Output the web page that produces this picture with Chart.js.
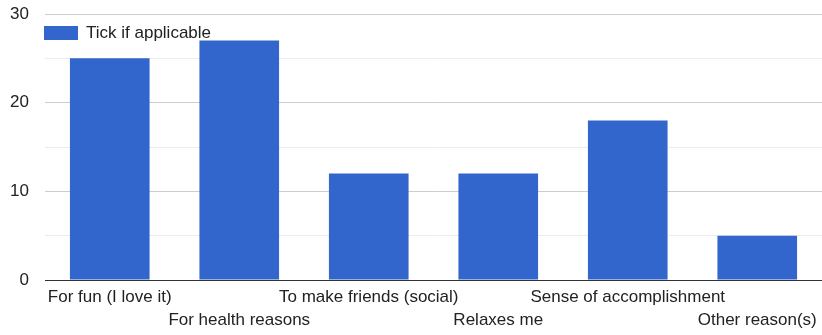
<!DOCTYPE html>
<html>
<head>
<meta charset="utf-8">
<script src="https://cdn.jsdelivr.net/npm/chart.js@4/dist/chart.umd.min.js"></script>
<style>
  html, body { margin: 0; padding: 0; background: #fff; }
  #wrap { width: 822px; height: 335px; }
</style>
</head>
<body>
<div id="wrap"><canvas id="c" width="822" height="335"></canvas></div>
<script>
// Reasons given, and how many respondents ticked each one
const categories = [
  'For fun (I love it)',
  'For health reasons',
  'To make friends (social)',
  'Relaxes me',
  'Sense of accomplishment',
  'Other reason(s)'
];
const tickCounts = [25, 27, 12, 12, 18, 5];
const seriesName = 'Tick if applicable';
const yTicks = [0, 10, 20, 30];

const FONT = "'Liberation Sans', Arial, sans-serif";
const BLUE = '#3366cc';

// Alternate labels drop to a second row so long names don't collide
const staggered = categories.map((c, i) => (i % 2 === 0 ? [c, ''] : ['', c]));

// Legend drawn inside the plot area, top-left
const insideLegend = {
  id: 'insideLegend',
  afterDraw(chart) {
    const { ctx, chartArea } = chart;
    const ds = chart.data.datasets[0];
    const x = chartArea.left - 1, y = chartArea.top + 12;
    ctx.save();
    ctx.fillStyle = ds.backgroundColor;
    ctx.fillRect(x, y, 34, 14);
    ctx.fillStyle = '#222';
    ctx.font = '17px ' + FONT;
    ctx.textBaseline = 'middle';
    ctx.fillText(ds.label, x + 42, y + 7);
    ctx.restore();
  }
};

new Chart(document.getElementById('c'), {
  type: 'bar',
  data: {
    labels: staggered,
    datasets: [{
      label: seriesName,
      data: tickCounts,
      backgroundColor: BLUE,
      borderWidth: 0,
      categoryPercentage: 1,
      barPercentage: 0.615
    }]
  },
  options: {
    responsive: false,
    animation: false,
    layout: { padding: { top: 14, right: 0, left: 0, bottom: 0 } },
    plugins: { legend: { display: false }, tooltip: { enabled: false } },
    scales: {
      x: {
        grid: { display: false, drawTicks: false },
        border: { display: true, color: '#333', width: 1 },
        ticks: {
          color: '#222',
          font: { family: FONT, size: 17, lineHeight: 1.36 },
          padding: 6,
          maxRotation: 0,
          autoSkip: false
        },
        afterFit(scale) {
          scale.height = 55;
          scale.paddingLeft = 0;
          scale.paddingRight = 0;
        }
      },
      y: {
        min: 0,
        max: 30,
        afterBuildTicks(scale) {
          const all = [];
          for (let v = 0; v <= 30; v += 5) all.push({ value: v });
          scale.ticks = all;
        },
        grid: {
          drawTicks: false,
          color: ctx => (ctx.tick.value % 10 === 0 ? '#cccccc' : '#ececec'),
          lineWidth: 1
        },
        border: { display: false },
        ticks: {
          color: '#222',
          font: { family: FONT, size: 17 },
          padding: 16,
          callback: v => (yTicks.includes(v) ? String(v) : '')
        },
        afterFit(scale) {
          scale.width = 45;
          scale.paddingTop = 0;
          scale.paddingBottom = 0;
        }
      }
    }
  },
  plugins: [insideLegend]
});
</script>
</body>
</html>
